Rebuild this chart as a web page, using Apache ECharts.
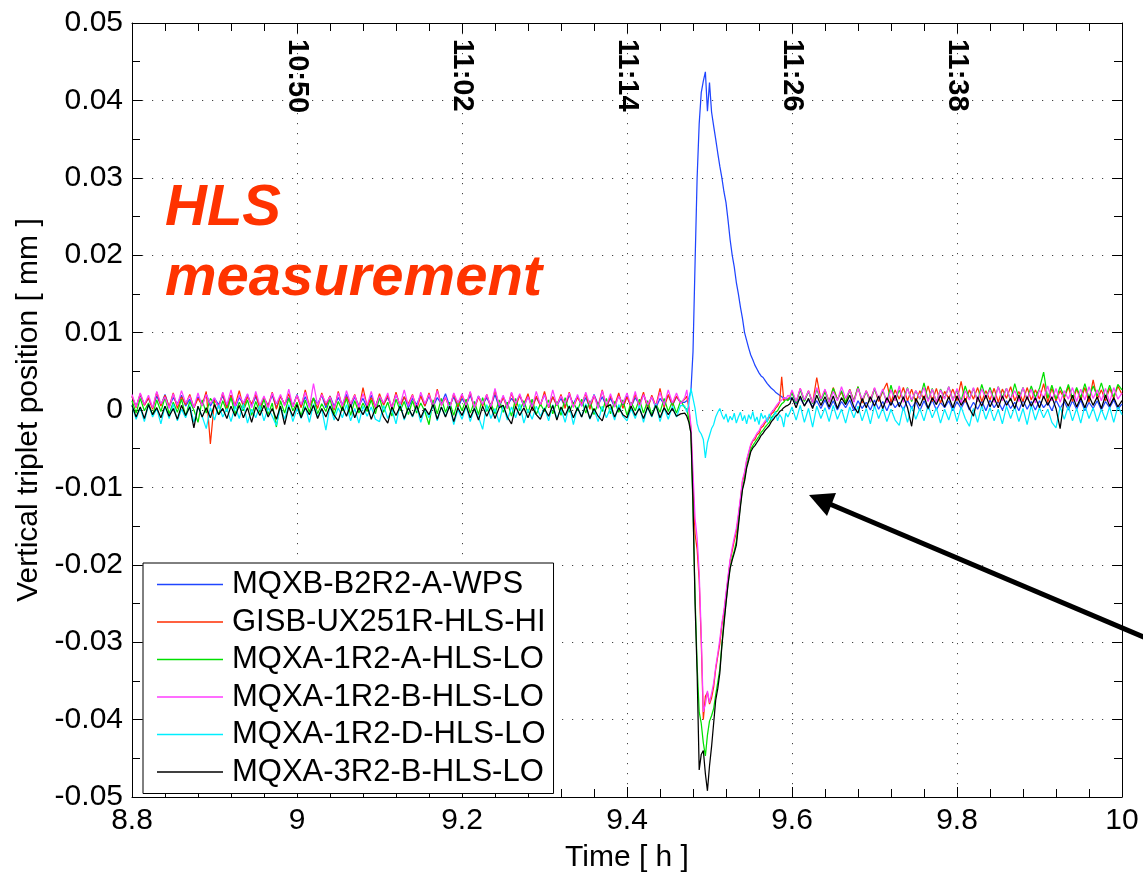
<!DOCTYPE html>
<html><head><meta charset="utf-8">
<script src="https://cdn.jsdelivr.net/npm/echarts@6/dist/echarts.min.js"></script>
<style>html,body{margin:0;padding:0;background:#fff;} #c{width:1143px;height:878px;}</style>
</head><body><div id="c"></div>
<script>
// ---- sampling clock of the readings: [start (h), step (h)] ----
const segPre = [8.8, 0.005];
const segEvt = [9.47, 0.0025];
const segPost = [9.6, 0.005];

// ---- values, in micrometres (1 um = 0.001 mm) ----
const bluePre = [1.7,0.5,1.9,0.7,1.5,0.3,1.8,0.6,2.0,0.4, 1.6,0.8,1.9,0.5,1.4,0.3,1.7,0.6,2.1,0.5, 1.5,0.7,1.8,0.4,1.9,0.3,1.6,0.8,2.0,0.5,
 1.7,0.4,1.5,0.6,1.9,0.3,1.8,0.7,1.6,0.5, 2.0,0.4,1.7,0.6,1.5,0.8,1.9,0.3,1.8,0.5, 1.6,0.7,2.0,0.4,1.7,0.6,1.5,0.3,1.9,0.5,
 1.8,0.8,1.6,0.4,2.0,0.6,1.7,0.3,1.5,0.7, 1.9,0.5,1.8,0.4,1.6,0.8,2.1,0.5,1.7,0.3, 1.5,0.6,1.9,0.4,1.8,0.7,1.6,0.5,2.0,0.3,
 1.7,0.6,1.5,0.8,1.9,0.4,1.8,0.5,1.6,0.7, 2.0,0.3,1.7,0.6,1.5,0.4,1.9,0.8,1.8,0.5, 1.6,0.3,2.0,0.7,1.7,0.5,1.5,0.4,1.9,0.6,
 1.8,0.4,1.6,0.7,2.0,0.5,1.7,0.3,1.5,0.8, 1.9,0.6,1.7,1.0];
const blueEvt = [1.0,1.2,1.5,2.5,7.5,19,30,37,41,42.5, 43.7,38.6,42.3,38.5,36.7,35,33.2,31.5,30,28.2,
 26.8,24.5,22,20,18.5,16.5,15,13.3,11.8,10, 9,8,7.1,6.5,5.8,5.3,4.8,4.4,4.2,3.8, 3.4,3.1,2.8,2.6,2.3,2.1,1.9,1.7,1.6,1.5, 1.4,1.4];
const bluePost = [1.6,0.8,1.5,0.6,1.3,0.4,1.2,0.2,1.3,0.1, 1.2,0.0,1.1,0.3,1.3,-0.1,1.2,0.2,1.0,0.0, 1.3,0.1,1.1,-0.1,1.2,0.3,1.0,0.0,1.3,0.2,
 1.1,-0.1,1.2,0.1,1.3,0.0,1.0,0.3,1.2,-0.1, 1.1,0.2,1.3,0.0,1.0,0.1,1.2,-0.1,1.3,0.3, 1.1,0.0,1.2,0.2,1.0,-0.1,1.3,0.1,1.1,0.0,
 1.2,0.3,1.0,-0.1,1.3,0.2,1.1,0.0,1.2,0.1, 1.3,-0.1,1.0,0.2,1.2,0.0,1.1,0.3,1.3,0.1, 0.8];

const redPre = [1.8,0.3,2.1,0.6,1.6,0.1,2.3,0.5,1.9,0.4, 2.2,0.2,1.7,0.7,2.0,0.3,1.5,0.6,2.4,-4.4, 1.3,0.4,2.2,0.1,1.9,0.6,2.5,0.3,1.7,0.8,
 2.0,0.2,1.6,0.5,2.3,0.1,1.8,0.7,2.1,0.4, 1.9,0.3,2.6,0.5,1.5,0.2,2.2,0.6,1.8,0.0, 2.4,0.4,1.7,0.7,2.0,0.1,2.9,0.5,1.6,0.3,
 2.1,0.6,1.9,0.2,2.3,0.4,1.7,0.8,2.0,0.1, 1.8,0.5,2.2,0.3,2.7,0.6,1.6,0.2,2.1,0.4, 1.9,0.7,2.3,0.1,1.7,0.5,2.0,0.3,2.5,0.6,
 1.6,0.2,2.2,0.4,1.9,0.7,2.1,0.0,1.8,0.5, 2.4,0.3,1.7,0.6,2.0,0.2,2.3,0.4,1.6,0.8, 2.1,0.1,1.9,0.5,2.6,0.3,1.8,0.6,2.2,0.2,
 1.7,0.4,2.0,0.7,2.3,0.1,1.9,0.5,2.8,0.3, 2.0,0.6,1.8,0.9];
const redEvt = [1.4,1.8,0.2,-2.5,-10,-16,-18,-22,-30,-40, -37,-36.5,-38,-37.2,-35.8,-33.5,-31.8,-30.2,-27.8,-26.2,
 -24,-21.8,-19.5,-18.2,-16.9,-15.8,-13.8,-11.6,-9.2,-8.3, -6.6,-5.6,-4.6,-4.0,-3.8,-3.2,-3.0,-2.3,-2.1,-1.6,
 -1.4,-1.0,-0.5,-0.3,0.2,0.5,1.0,4.3,1.2,1.5, 1.3,1.8];
const redPost = [2.4,1.0,2.8,1.2,2.5,0.9,4.2,1.3,2.6,1.1, 2.9,1.4,2.3,1.0,2.7,1.2,3.0,0.9,2.5,1.3, 2.8,1.1,2.4,3.5,1.0,2.6,1.4,2.9,1.2,2.7,
 1.0,2.5,1.3,3.1,1.1,2.8,0.9,2.4,1.5,2.7, 1.2,3.7,1.0,2.6,1.4,2.9,1.1,2.5,1.3,2.8, 1.0,2.7,1.5,3.0,1.2,2.4,1.1,2.9,1.3,2.6,
 1.4,3.4,1.0,2.8,1.2,2.5,1.5,3.0,1.1,2.7, 1.3,2.9,1.0,3.9,1.4,2.6,1.2,2.8,1.5,3.1, 2.0];

const greenPre = [1.2,-0.4,1.5,-0.1,0.9,-0.7,1.3,-0.2,1.6,-0.5, 1.0,-0.3,1.4,-0.8,1.1,0.0,-1.6,1.3,-0.4,1.5, 0.8,-0.6,1.2,-0.2,1.6,-0.5,1.0,-0.1,1.3,-0.7,
 1.1,-0.3,1.4,-0.6,0.9,-2.2,1.2,-0.4,1.5,-0.1, 1.0,-0.8,1.3,-0.3,1.6,-0.5,0.8,-0.2,1.4,-0.6, 1.1,-0.1,1.5,-0.7,1.2,-0.4,0.9,-0.2,1.3,-0.5,
 1.6,-0.3,1.0,-0.8,1.4,-0.1,1.1,-0.6,1.2,-0.4, 0.9,-0.2,-1.9,1.3,-0.5,1.5,-0.3,1.0,-0.7,1.2, -0.1,1.4,-0.4,1.1,-0.6,1.6,-0.2,0.9,-0.5,1.3,
 -0.3,1.0,-0.8,1.5,-0.1,1.2,-0.4,1.4,-0.6,0.8, -0.2,1.3,-0.5,1.1,-0.7,1.6,-0.3,1.0,-0.1,1.4, -0.4,1.2,-0.6,0.9,-0.2,1.5,-0.5,1.1,-0.3,1.3,
 -0.7,1.0,-0.1,1.4,-0.4,1.2,-0.6,0.8,-0.3,1.5, -0.2,1.1,-0.4,1.2];
const greenEvt = [0.3,0.1,-1.2,-3,-13,-24,-33,-39,-40.5,-43, -44.7,-42,-40.2,-39.5,-38.6,-36.8,-35.2,-33.5,-30.3,-27.3,
 -24.8,-22.3,-20.3,-19.1,-18.2,-17.0,-14.6,-12.2,-10.0,-8.9, -7.2,-6.2,-5.1,-4.6,-4.2,-3.8,-3.4,-2.9,-2.6,-2.2,
 -1.9,-1.6,-1.0,-0.7,-0.3,-0.1,0.4,0.8,1.0,1.4, 1.2,1.6];
const greenPost = [2.2,0.9,2.6,1.1,2.4,0.8,2.7,1.2,2.3,1.0, 2.8,1.3,2.5,0.9,2.6,1.1,3.0,1.2,2.4,1.0, 2.7,1.4,2.5,1.0,3.2,1.2,2.6,1.3,2.9,1.1,
 2.5,1.4,3.5,1.2,2.8,1.0,2.7,1.5,3.0,1.3, 2.6,1.2,3.1,1.4,2.8,1.1,3.3,1.5,2.9,1.3, 3.0,1.6,2.8,1.2,3.4,1.5,2.9,1.3,3.1,1.6,
 2.8,4.9,1.5,3.2,1.4,3.0,1.7,3.3,1.5,2.9, 1.6,3.4,1.5,3.1,1.8,3.5,1.6,3.2,1.7,3.3, 2.6];

const magentaPre = [2.0,0.4,2.2,0.7,1.9,0.3,2.4,0.8,1.7,0.2, 2.1,0.6,2.5,0.9,1.8,0.3,2.2,0.5,2.0,0.8, 1.6,0.2,2.3,0.7,2.6,0.4,1.9,0.9,2.1,0.3,
 2.4,0.6,1.8,0.2,2.2,0.8,2.0,0.5,2.7,0.4, 1.9,0.7,2.3,0.3,3.4,0.6,2.0,0.9,1.7,0.2, 2.2,0.5,2.5,0.8,1.9,0.3,2.1,0.6,2.4,0.4,
 1.8,0.9,2.2,0.2,2.0,0.7,2.6,0.5,1.9,0.3, 2.3,0.8,2.0,0.4,2.5,0.6,1.7,0.2,2.2,0.9, 2.1,0.5,2.4,0.3,1.8,0.7,2.0,0.4,2.8,0.6,
 1.9,0.2,2.3,0.8,2.1,0.5,1.7,0.3,2.4,0.7, 2.0,0.4,2.6,0.6,1.8,0.9,2.2,0.3,2.0,0.5, 2.3,0.7,1.9,0.2,2.5,0.6,2.1,0.4,1.8,0.8,
 2.2,0.5,2.4,0.3,2.0,0.7,1.7,0.4,2.3,0.6, 2.6,0.9,2.2,0.8];
const magentaEvt = [1.6,2.6,0.5,-2,-8,-14,-16.5,-21,-29,-39, -38,-36.3,-37.8,-36.6,-35.3,-33.2,-31.5,-29.6,-27.5,-25.9,
 -23.6,-21.4,-19.3,-17.8,-16.5,-15.3,-13.4,-11.3,-9.0,-8.0, -6.4,-5.4,-4.4,-3.9,-3.5,-3.0,-2.7,-2.1,-1.8,-1.4,
 -1.1,-0.8,-0.3,0.0,0.4,0.8,1.1,1.3,1.6,1.4, 1.9,1.7];
const magentaPost = [2.6,1.1,2.8,1.3,2.5,0.9,2.9,1.4,2.7,1.0, 2.4,1.2,3.0,1.5,2.6,1.0,2.8,1.3,2.5,1.1, 2.9,1.4,2.7,0.9,2.6,1.2,3.1,1.0,2.8,1.3,
 2.5,1.5,2.9,1.1,2.7,1.0,2.6,1.4,3.0,1.2, 2.8,0.9,2.5,1.3,2.9,1.1,2.7,1.5,2.6,1.0, 3.0,1.2,2.8,1.4,2.5,1.1,2.9,1.3,2.7,0.9,
 2.6,1.5,3.1,1.2,2.8,1.0,2.5,1.4,2.9,1.1, 2.7,1.3,3.0,1.5,2.6,1.2,2.8,1.0,2.9,1.4, 2.2];

const cyanPre = [0.6,-1.2,0.3,-1.5,0.7,-0.9,0.2,-1.8,0.5,-1.1, 0.8,-1.4,0.1,-1.0,0.6,-1.6,0.4,-0.8,-2.4,0.3, -1.3,0.7,-0.9,0.2,-1.5,0.5,-1.1,0.8,-1.7,0.1,
 -1.0,0.6,-1.4,0.3,-0.8,-2.0,0.4,-1.2,0.7,-1.5, 0.2,-1.1,0.5,-1.6,0.8,-0.9,0.1,-2.6,0.6,-1.3, 0.3,-1.0,0.7,-1.4,0.2,-1.7,0.5,-0.8,0.4,-1.2,
 -1.5,0.6,-1.1,0.1,-1.8,0.8,-1.3,0.3,-0.9,0.5, -1.6,0.2,-1.0,0.7,-1.4,0.4,-0.8,0.6,-1.9,0.1, -1.2,0.5,-1.5,0.3,-0.9,-2.5,0.7,-1.1,0.2,-1.6,
 0.6,-1.3,0.4,-1.0,0.8,-1.7,0.1,-1.2,0.5,-0.8, 0.3,-1.4,0.7,-1.1,0.2,-1.6,0.6,-1.9,0.4,-0.9, 0.8,-1.2,0.1,-1.5,0.5,-1.0,0.3,-1.3,0.7,-0.8,
 -1.4,0.2,-1.1,0.6,-1.6,0.4,-0.9,0.8,-1.5,0.3, -1.2,0.5,-0.9,0.6];
const cyanEvt = [0.5,-0.3,0.8,2.8,1.5,0.2,-1.8,-2.7,-3.1,-3.8, -6.2,-4.2,-3.3,-2.4,-1.9,-0.9,-0.3,0.2,-0.6,-1.2,
 -0.5,-1.6,-0.8,-1.3,-0.4,-1.7,-0.9,-0.3,-1.4,-0.7, -1.8,-0.6,-1.2,-0.2,-1.5,-0.9,-1.9,-0.4,-1.1,-0.7,
 -1.6,-0.5,-1.3,-0.8,-0.2,-1.4,-0.6,-1.0,-2.2,-0.4, -0.9,-0.3];
const cyanPost = [0.4,-1.3,0.6,-1.6,0.2,-2.2,0.5,-1.1,0.3,-1.5, 0.6,-1.2,0.1,-1.7,0.4,-1.0,0.5,-1.4,0.2,-1.8, 0.6,-1.1,0.3,-1.5,0.1,-1.3,-2.0,0.4,-1.6,0.5,
 -1.2,0.2,-1.4,0.6,-1.0,0.3,-1.7,0.1,-1.3,0.5, -1.5,0.4,-1.1,-2.1,0.2,-1.6,0.6,-1.2,0.3,-1.4, 0.1,-1.8,0.5,-1.1,0.4,-1.5,0.2,-1.9,0.6,-1.3,
 0.3,-1.0,0.1,-1.6,-2.3,0.4,-1.2,0.5,-1.4,0.2, -1.7,0.6,-1.1,0.3,-1.5,0.1,-1.3,0.4,-1.6,0.5, -0.6];

const blackPre = [0.6,-0.9,0.4,-1.1,0.7,-0.6,0.3,-1.0,0.5,-0.8, 0.2,-1.2,0.6,-0.7,0.4,-2.3,0.5,-0.9,0.3,-1.0, 0.7,-0.6,0.2,-1.1,0.5,-0.8,0.6,-1.0,0.3,-1.6,
 0.4,-0.7,0.6,-0.9,0.2,-1.2,0.5,-1.9,0.4,-0.8, 0.7,-1.0,0.3,-0.6,0.6,-1.1,0.2,-0.9,0.5,-0.7, -1.4,0.4,-0.8,0.7,-1.0,0.3,-0.6,0.5,-1.2,0.2,
 0.6,-0.9,-1.7,0.4,-0.7,0.5,-1.1,0.3,-0.8,0.6, -1.0,0.2,-0.6,0.7,-1.2,0.4,-0.9,0.5,-1.5,0.3, -0.7,0.6,-1.0,0.2,-1.3,0.5,-0.8,0.4,-1.1,0.3,
 0.6,-0.9,-1.8,0.5,-0.7,0.3,-1.0,0.4,-0.6,-1.2, 0.2,-0.8,0.6,-1.3,0.4,-0.7,0.5,-1.0,0.3,-0.9, 0.6,-1.1,0.2,-0.8,-1.4,0.4,0.7,-0.9,0.3,-0.6,
 -1.0,0.5,-0.7,0.2,-1.1,0.4,-0.8,0.6,-1.0,0.3, -0.6,0.2,-0.8,-0.5];
const blackEvt = [-0.4,-0.8,-1.6,-3,-12,-25,-34,-46.5,-44.5,-44, -47,-49.2,-46,-43.5,-40.5,-37.5,-36,-34,-30.5,-27.7,
 -25,-22.5,-20.5,-19.4,-18.5,-17.5,-15,-12.5,-10.3,-9.2, -7.5,-6.5,-5.4,-4.9,-4.6,-4.2,-3.8,-3.3,-3.0,-2.6,
 -2.3,-2.0,-1.5,-1.2,-0.8,-0.6,-0.2,0.0,0.3,0.5, 0.6,0.8];
const blackPost = [1.6,0.3,1.8,0.5,1.5,0.2,1.9,0.6,1.7,0.4, 1.8,0.2,1.6,0.7,1.9,0.4,-0.4,1.5,0.3,1.7, 0.5,1.8,0.2,1.6,0.6,1.9,0.4,1.7,0.3,-2.1,
 1.5,0.5,1.8,0.2,1.6,0.7,1.9,0.4,1.7,0.3, 1.8,0.6,1.5,0.2,-0.8,1.7,0.5,1.9,0.4,1.6, 0.3,1.8,0.6,1.5,0.2,1.9,0.4,1.7,0.5,1.6,
 0.3,1.8,0.6,1.7,0.2,-2.4,1.5,0.5,1.9,0.4, 1.6,0.3,1.8,0.6,1.7,0.2,1.9,0.5,1.6,0.4, 1.2];

const seriesNames = ['MQXB-B2R2-A-WPS','GISB-UX251R-HLS-HI','MQXA-1R2-A-HLS-LO','MQXA-1R2-B-HLS-LO','MQXA-1R2-D-HLS-LO','MQXA-3R2-B-HLS-LO'];
const seriesColors = ['#1f45ff','#ff2d00','#00e000','#ff3cff','#00eeff','#000000'];
const seriesParts = [[bluePre,blueEvt,bluePost],[redPre,redEvt,redPost],[greenPre,greenEvt,greenPost],
  [magentaPre,magentaEvt,magentaPost],[cyanPre,cyanEvt,cyanPost],[blackPre,blackEvt,blackPost]];

// axis tick labels
const topTickValues = [9.0, 9.2, 9.4, 9.6, 9.8];
const topTickLabels = ['10:50','11:02','11:14','11:26','11:38'];

function build(parts){
  const out=[];
  [segPre,segEvt,segPost].forEach((seg,k)=>{
    parts[k].forEach((v,i)=>out.push([+(seg[0]+i*seg[1]).toFixed(5), v/1000]));
  });
  return out;
}

const FONT = '"Liberation Sans", Arial, Helvetica, sans-serif';
const chart = echarts.init(document.getElementById('c'), null, {renderer:'canvas'});
const gridDots = {show:true, lineStyle:{color:'#444', width:1, type:[1.2,8.8]}};
const tickIn = {show:true, inside:true, length:10, lineStyle:{color:'#000', width:1}};
const minorIn = (n)=>({show:true, splitNumber:n, length:8, lineStyle:{color:'#000', width:1}});

chart.setOption({
  animation:false,
  textStyle:{fontFamily:FONT},
  grid:{left:132, right:21, top:23, bottom:74, containLabel:false},
  xAxis:[{
    type:'value', position:'bottom', min:8.8, max:10, interval:0.2,
    axisLine:{show:true, onZero:false, lineStyle:{color:'#000', width:1}},
    axisTick:tickIn, minorTick:minorIn(5), splitLine:gridDots,
    axisLabel:{color:'#000', fontSize:30, margin:9, fontFamily:FONT},
    name:'Time [ h ]', nameLocation:'middle', nameGap:46,
    nameTextStyle:{color:'#000', fontSize:30, fontFamily:FONT}
  },{
    type:'value', position:'top', min:8.8, max:10, interval:0.2,
    axisLine:{show:true, onZero:false, lineStyle:{color:'#000', width:1}},
    axisTick:tickIn, minorTick:minorIn(5), splitLine:{show:false},
    axisLabel:{show:true, inside:true, rotate:90, margin:16, color:'#000', fontSize:29, fontWeight:'bold', fontFamily:FONT,
      formatter:(v)=>{const i=topTickValues.findIndex(t=>Math.abs(t-v)<1e-6); return i<0?'':topTickLabels[i];}}
  }],
  yAxis:[{
    type:'value', position:'left', min:-0.05, max:0.05, interval:0.01,
    axisLine:{show:true, onZero:false, lineStyle:{color:'#000', width:1}},
    axisTick:tickIn, minorTick:minorIn(2), splitLine:gridDots,
    axisLabel:{color:'#000', fontSize:30, margin:9, fontFamily:FONT},
    name:'Vertical triplet position [ mm ]', nameLocation:'middle', nameGap:88,
    nameTextStyle:{color:'#000', fontSize:30, fontFamily:FONT}
  },{
    type:'value', position:'right', min:-0.05, max:0.05, interval:0.01,
    axisLine:{show:true, onZero:false, lineStyle:{color:'#000', width:1}},
    axisTick:tickIn, minorTick:minorIn(2), splitLine:{show:false}, axisLabel:{show:false}
  }],
  legend:{
    show:true, orient:'vertical', left:143, top:563, data:seriesNames,
    icon:'rect', itemWidth:66, itemHeight:1.5, itemGap:6.5,
    padding:[6,8,6,14], borderColor:'#000', borderWidth:1, backgroundColor:'#fff',
    textStyle:{fontSize:31, lineHeight:31, color:'#000', fontFamily:FONT, padding:[0,0,0,4]}
  },
  series: seriesNames.map((n,k)=>({
    name:n, type:'line', xAxisIndex:0, yAxisIndex:0, data:build(seriesParts[k]),
    symbol:'none', showSymbol:false, sampling:null,
    lineStyle:{color:seriesColors[k], width:1.25}, itemStyle:{color:seriesColors[k]},
    emphasis:{disabled:true}
  })),
  graphic:[
    {type:'text', left:165, top:180, z:100, style:{text:'HLS', fill:'#ff3300', fontSize:58, fontWeight:'bold', fontStyle:'italic', fontFamily:FONT}},
    {type:'text', left:165, top:250, z:100, style:{text:'measurement', fill:'#ff3300', fontSize:58, fontWeight:'bold', fontStyle:'italic', fontFamily:FONT}},
    {type:'line', z:100, shape:{x1:1160, y1:644, x2:825, y2:502}, style:{stroke:'#000', lineWidth:5}},
    {type:'polygon', z:101, shape:{points:[[809,495],[836,493],[827,516]]}, style:{fill:'#000'}}
  ]
});
</script></body></html>
